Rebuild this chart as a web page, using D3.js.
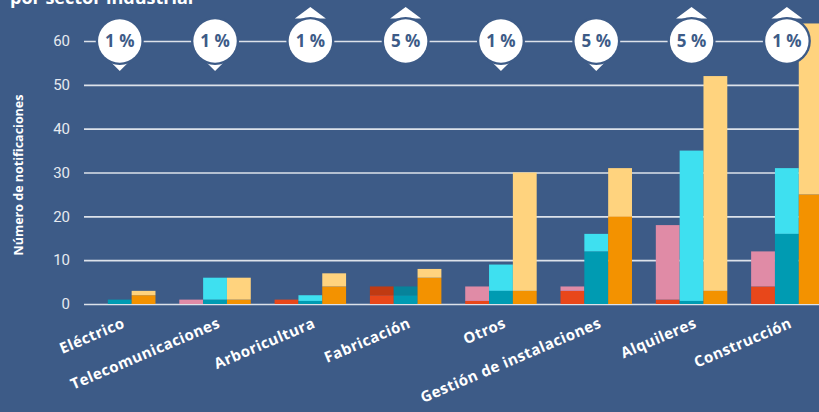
<!DOCTYPE html>
<html>
<head>
<meta charset="utf-8">
<script src="https://cdn.jsdelivr.net/npm/d3@7"></script>
<style>
  body { margin: 0; background: #3d5b87; }
  svg { display: block; }
</style>
</head>
<body>
<div id="chart"></div>
<script>
// Global variables.
let width = 819
let height = 412
let bg = "#3d5b87"
let grid = "#dde2ea"

// Data.
const categories = ["Eléctrico", "Telecomunicaciones", "Arboricultura", "Fabricación", "Otros", "Gestión de instalaciones", "Alquileres", "Construcción"]
const red      = [0, 0, 1, 2, 0.7, 3, 1, 4]
const darkRed  = [0, 0, 0, 2, 0, 0, 0, 0]
const pink     = [0, 1, 0, 0, 3.3, 1, 17, 8]
const teal     = [1, 1, 0.7, 2, 3, 12, 0.7, 16]
const darkTeal = [0, 0, 0, 2, 0, 0, 0, 0]
const cyan     = [0, 5, 1.3, 0, 6, 4, 34.3, 15]
const orange   = [2, 1, 4, 6, 3, 20, 3, 25]
const yellow   = [1, 5, 3, 2, 27, 11, 49, 39]
const percents = ["1 %", "1 %", "1 %", "5 %", "1 %", "5 %", "5 %", "1 %"]
const trends   = ["down", "down", "up", "up", "down", "down", "up", "up"]
const yTicks   = [0, 10, 20, 30, 40, 50, 60]

// Three bars per sector, each a stack of segments.
let bars = [
    {keys: ["red", "darkRed", "pink"], colors: ["#e8471a", "#c03a12", "#e08ba6"]},
    {keys: ["teal", "darkTeal", "cyan"], colors: ["#009bb2", "#07839a", "#3ee0f0"]},
    {keys: ["orange", "yellow"], colors: ["#f39200", "#ffd37e"]}
]
let rows = categories.map((c, i) => ({
    cat: c, red: red[i], darkRed: darkRed[i], pink: pink[i],
    teal: teal[i], darkTeal: darkTeal[i], cyan: cyan[i],
    orange: orange[i], yellow: yellow[i]
}))

let svg = d3.select("#chart").append("svg")
    .attr("width", width)
    .attr("height", height)
    .style("background", bg)

// Scales.
let x = d3.scaleBand().domain(categories).range([84, 822.6]).paddingInner(0.25).paddingOuter(0)
let xSub = d3.scaleBand().domain([0, 1, 2]).range([0, x.bandwidth()])
let y = d3.scaleLinear().domain([0, 60]).range([304, 41])

// Title (cut at the top edge, as in the source).
svg.append("text")
    .attr("x", 10).attr("y", 4)
    .attr("fill", "#fff")
    .style("font", "700 18px 'Open Sans', sans-serif")
    .text("por sector industrial")

// Gridlines and tick labels.
let yAxis = d3.axisLeft(y).tickValues(yTicks).tickSize(-(width - 84)).tickPadding(14)
let gy = svg.append("g").attr("transform", "translate(84,0)").call(yAxis)
gy.select(".domain").remove()
gy.selectAll(".tick line").attr("stroke", grid).attr("stroke-width", 1.6)
gy.selectAll(".tick text")
    .attr("fill", "#e6eaf0")
    .style("font", "15px Roboto, sans-serif")

// Y axis title.
svg.append("text")
    .attr("transform", "translate(23,175) rotate(-90)")
    .attr("text-anchor", "middle")
    .attr("fill", "#fff")
    .style("font", "700 12.5px 'Open Sans', sans-serif")
    .text("Número de notificaciones")

// Stacked bars.
bars.forEach(function(b, bi) {
    let series = d3.stack().keys(b.keys)(rows)
    svg.append("g")
        .selectAll("g")
        .data(series)
        .join("g")
        .attr("fill", (s, si) => b.colors[si])
        .selectAll("rect")
        .data(s => s)
        .join("rect")
        .attr("x", d => x(d.data.cat) + xSub(bi))
        .attr("width", xSub.bandwidth())
        .attr("y", d => y(d[1]))
        .attr("height", d => y(d[0]) - y(d[1]))
})

// Category labels.
svg.append("g")
    .selectAll("text")
    .data(categories)
    .join("text")
    .attr("transform", d => "translate(" + (x(d) + x.bandwidth() / 2 + 6) + ",327) rotate(-23)")
    .attr("text-anchor", "end")
    .attr("fill", "#fff")
    .style("font", "700 15px 'Open Sans', sans-serif")
    .style("letter-spacing", "0.5px")
    .text(d => d)

// Percentage badges with trend arrows.
let cy = y(60)
let badge = svg.append("g")
    .selectAll("g")
    .data(categories)
    .join("g")
    .attr("transform", d => "translate(" + (x(d) + x.bandwidth() / 2) + "," + cy + ")")

badge.append("path")
    .attr("fill", "#fff")
    .attr("d", (d, i) => trends[i] === "up"
        ? "M0,-34L15.5,-22.5L-15.5,-22.5Z"
        : "M-11,19L11,19L0,30Z")
badge.append("circle").attr("r", 24).attr("fill", bg)
badge.append("circle").attr("r", 21.7).attr("fill", "#fff")
badge.append("text")
    .attr("text-anchor", "middle")
    .attr("dy", "0.36em")
    .attr("fill", bg)
    .style("font", "700 17px 'Open Sans', sans-serif")
    .text((d, i) => percents[i])
</script>
</body>
</html>
